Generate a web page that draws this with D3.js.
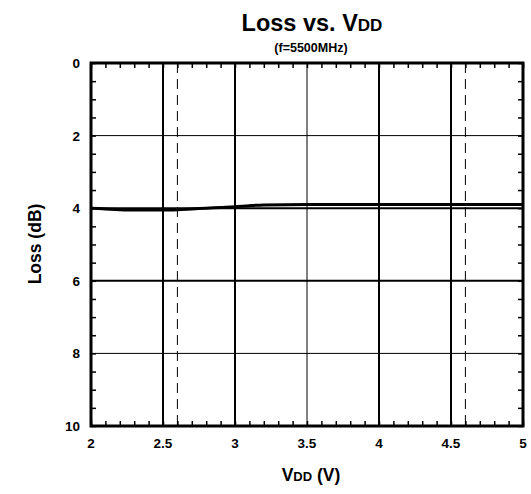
<!DOCTYPE html>
<html><head><meta charset="utf-8">
<script src="https://cdn.jsdelivr.net/npm/d3@7"></script>
<style>body{margin:0;background:#fff;} svg{display:block;font-family:Arial,"Liberation Sans",sans-serif;}</style>
</head><body>
<svg id="c" width="531" height="494"></svg>
<script>
const vdd  = [2.0, 2.1, 2.2, 2.3, 2.4, 2.5, 2.6, 2.7, 2.8, 2.9, 3.0, 3.1, 3.2, 3.5, 4.0, 4.5, 5.0];
const loss = [4.00, 4.02, 4.04, 4.05, 4.05, 4.05, 4.04, 4.02, 4.00, 3.98, 3.96, 3.93, 3.91, 3.90, 3.90, 3.90, 3.90];
const xTicks = [2, 2.5, 3, 3.5, 4, 4.5, 5];
const yTicks = [0, 2, 4, 6, 8, 10];
const xThickGrid = [2.5, 3, 4, 4.5];
const xThinGrid = [3.5];
const yThickGrid = [4, 6];
const yThinGrid = [2, 8];
const dashedX = [2.6, 4.6];

const svg = d3.select("#c");
const L = 91, R = 523, T = 63, B = 426;
const x = d3.scaleLinear().domain([2, 5]).range([L, R]);
const y = d3.scaleLinear().domain([0, 10]).range([T, B]);

// grid
const g = svg.append("g");
g.selectAll(".vtk").data(xThickGrid).join("line")
  .attr("x1", d => x(d)).attr("x2", d => x(d)).attr("y1", T).attr("y2", B)
  .attr("stroke", "#000").attr("stroke-width", 2);
g.selectAll(".vtn").data(xThinGrid).join("line")
  .attr("x1", d => x(d)).attr("x2", d => x(d)).attr("y1", T).attr("y2", B)
  .attr("stroke", "#000").attr("stroke-width", 1);
g.selectAll(".htk").data(yThickGrid).join("line")
  .attr("x1", L).attr("x2", R).attr("y1", d => y(d)).attr("y2", d => y(d))
  .attr("stroke", "#000").attr("stroke-width", 2);
g.selectAll(".htn").data(yThinGrid).join("line")
  .attr("x1", L).attr("x2", R).attr("y1", d => y(d)).attr("y2", d => y(d))
  .attr("stroke", "#000").attr("stroke-width", 1);
g.selectAll(".dsh").data(dashedX).join("line")
  .attr("x1", d => x(d)).attr("x2", d => x(d)).attr("y1", T).attr("y2", B)
  .attr("stroke", "#000").attr("stroke-width", 1).attr("stroke-dasharray", "10,6");

// minor/major ticks inside on all sides
const xMinor = d3.range(2, 5.0001, 0.1);
const yMinor = d3.range(0, 10.0001, 0.5);
const tl = 5;
svg.append("g").call(d3.axisBottom(x).tickValues(xMinor).tickSize(-tl).tickFormat(""))
  .attr("transform", `translate(0,${B})`).call(s => s.select(".domain").remove())
  .selectAll("line").attr("stroke-width", 1.5);
svg.append("g").call(d3.axisTop(x).tickValues(xMinor).tickSize(-tl).tickFormat(""))
  .attr("transform", `translate(0,${T})`).call(s => s.select(".domain").remove())
  .selectAll("line").attr("stroke-width", 1.5);
svg.append("g").call(d3.axisLeft(y).tickValues(yMinor).tickSize(-tl).tickFormat(""))
  .attr("transform", `translate(${L},0)`).call(s => s.select(".domain").remove())
  .selectAll("line").attr("stroke-width", 1.5);
svg.append("g").call(d3.axisRight(y).tickValues(yMinor).tickSize(-tl).tickFormat(""))
  .attr("transform", `translate(${R},0)`).call(s => s.select(".domain").remove())
  .selectAll("line").attr("stroke-width", 1.5);

// data line
svg.append("path").datum(vdd.map((v, i) => [v, loss[i]]))
  .attr("d", d3.line().x(d => x(d[0])).y(d => y(d[1])).curve(d3.curveMonotoneX))
  .attr("fill", "none").attr("stroke", "#000").attr("stroke-width", 3);

// frame
svg.append("rect").attr("x", L).attr("y", T).attr("width", R - L).attr("height", B - T)
  .attr("fill", "none").attr("stroke", "#000").attr("stroke-width", 3);

// tick labels
svg.append("g").selectAll("text").data(xTicks).join("text")
  .attr("x", d => x(d)).attr("y", 448).attr("text-anchor", "middle")
  .attr("font-size", 13.5).attr("font-weight", "bold").text(d => d);
svg.append("g").selectAll("text").data(yTicks).join("text")
  .attr("x", 80).attr("y", d => y(d) + 5).attr("text-anchor", "end")
  .attr("font-size", 13.5).attr("font-weight", "bold").text(d => d);

// titles
const t = svg.append("text").attr("x", 312).attr("y", 31).attr("text-anchor", "middle")
  .attr("font-size", 23.5).attr("font-weight", "bold");
t.append("tspan").text("Loss vs. V");
t.append("tspan").attr("font-size", 17).text("DD");
svg.append("text").attr("x", 311).attr("y", 52).attr("text-anchor", "middle")
  .attr("font-size", 12.5).attr("font-weight", "bold").text("(f=5500MHz)");

const xl = svg.append("text").attr("x", 311).attr("y", 481).attr("text-anchor", "middle")
  .attr("font-size", 17.5).attr("font-weight", "bold");
xl.append("tspan").text("V");
xl.append("tspan").attr("font-size", 13).text("DD");
xl.append("tspan").text(" (V)");

svg.append("text").attr("transform", "translate(41,244) rotate(-90)").attr("text-anchor", "middle")
  .attr("font-size", 17.5).attr("font-weight", "bold").text("Loss (dB)");
</script>
</body></html>
